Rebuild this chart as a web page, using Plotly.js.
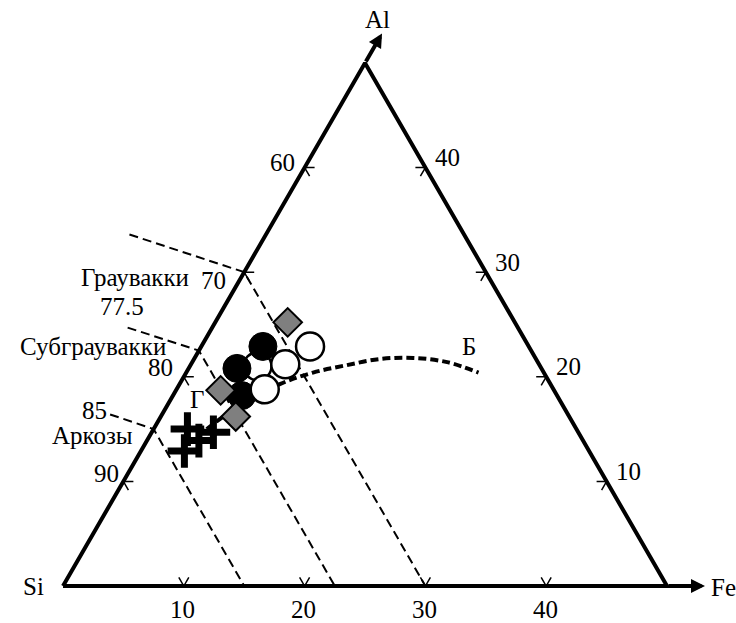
<!DOCTYPE html>
<html>
<head>
<meta charset="utf-8">
<script src="https://cdn.plot.ly/plotly-3.0.1.min.js"></script>
<style>
  html, body { margin: 0; padding: 0; background: #fff; }
  #chart { width: 736px; height: 623px; }
</style>
</head>
<body>
<div id="chart"></div>
<script>
// Compositions in percent (Si + Al + Fe = 100). Only the Si >= 50 part of the
// triangle is drawn, so Al and Fe each run from 0 to 50.

// Filled black circles
const blackCircleFe = [5.1, 4.0, 5.7];
const blackCircleAl = [22.9, 20.8, 18.2];
// Open circles (the first one lies underneath the black circles)
const openCircleFe = [5.6, 9.0, 7.8, 7.3];
const openCircleAl = [21.0, 22.9, 21.2, 18.8];
// Grey diamonds
const diamondFe = [6.0, 3.7, 6.2];
const diamondAl = [25.2, 18.7, 16.2];
// Crosses
const crossFe = [2.8, 5.1, 3.6, 4.3];
const crossAl = [15.0, 14.7, 12.9, 13.9];

// Classification boundaries (constant Si) and the points their leaders start from
const siBoundaries = [70, 77.5, 85];
const leaderFe = [-11.3, -7.0, -4.3];
const leaderAl = [33.6, 24.7, 16.4];

// Trend curve "Б"
const curveFe = [4.4, 6.0, 8.3, 10.5, 12.9, 15.4, 18.1, 21.1, 24.2];
const curveAl = [15.0, 17.3, 19.3, 20.4, 21.1, 21.7, 21.8, 21.4, 20.4];

// Tick values on each side
const siTicks = [60, 70, 80, 90];   // left side
const alTicks = [40, 30, 20, 10];   // right side
const feTicks = [10, 20, 30, 40];   // bottom side

// ---- geometry -------------------------------------------------------------
const SPAN = 50;                 // visible range of Al and Fe
const H = Math.sqrt(3) / 2;
const PX = 604;                  // pixels per unit side length
function cart(fe, al) {
  const v = al / SPAN, u = fe / SPAN;
  return [u + v / 2, v * H];
}
function toXY(feArr, alArr) {
  const x = [], y = [];
  feArr.forEach((fe, i) => { const p = cart(fe, alArr[i]); x.push(p[0]); y.push(p[1]); });
  return { x, y };
}

const BLACK = '#000';
const FONT = { family: '"Liberation Serif", "Times New Roman", serif', size: 25, color: BLACK };

const traces = [];

// triangle
const SI = cart(0, 0), FE = cart(SPAN, 0), AL = cart(0, SPAN);
traces.push({
  x: [SI[0], FE[0], AL[0], SI[0]], y: [SI[1], FE[1], AL[1], SI[1]],
  mode: 'lines', line: { color: BLACK, width: 4 }, hoverinfo: 'skip'
});

// boundary lines: leader -> left side -> bottom side
siBoundaries.forEach((si, i) => {
  const a = cart(leaderFe[i], leaderAl[i]);
  const b = cart(0, 100 - si);
  const c = cart(100 - si, 0);
  traces.push({
    x: [a[0], b[0], c[0]], y: [a[1], b[1], c[1]],
    mode: 'lines', line: { color: BLACK, width: 2, dash: '9px,5px' }, hoverinfo: 'skip'
  });
});

// curve Б
const cv = toXY(curveFe, curveAl);
traces.push({
  x: cv.x, y: cv.y, mode: 'lines',
  line: { color: BLACK, width: 4, dash: '8px,4px', shape: 'spline', smoothing: 1 },
  hoverinfo: 'skip'
});

// tick marks: two short strokes pointing inward along the other two directions
const TL = 10 / PX;
const tx = [], ty = [];
function tick(p, d1, d2) {
  tx.push(p[0] + d1[0] * TL, p[0], p[0] + d2[0] * TL, null);
  ty.push(p[1] + d1[1] * TL, p[1], p[1] + d2[1] * TL, null);
}
siTicks.forEach(t => tick(cart(0, 100 - t), [1, 0], [0.5, -H]));
alTicks.forEach(t => tick(cart(SPAN - t, t), [-1, 0], [-0.5, -H]));
feTicks.forEach(t => tick(cart(t, 0), [0.5, H], [-0.5, H]));
traces.push({ x: tx, y: ty, mode: 'lines', line: { color: BLACK, width: 1.5 }, hoverinfo: 'skip' });

// markers
const oc = toXY(openCircleFe, openCircleAl);
const openStyle = { symbol: 'circle', size: 28, color: '#fff', line: { color: BLACK, width: 2.5 } };
traces.push({ x: oc.x.slice(0, 1), y: oc.y.slice(0, 1), mode: 'markers', marker: openStyle });
const bc = toXY(blackCircleFe, blackCircleAl);
traces.push({ x: bc.x, y: bc.y, mode: 'markers',
  marker: { symbol: 'circle', size: 28, color: BLACK, line: { color: BLACK, width: 1 } } });
traces.push({ x: oc.x.slice(1), y: oc.y.slice(1), mode: 'markers', marker: openStyle });
const dm = toXY(diamondFe, diamondAl);
traces.push({ x: dm.x, y: dm.y, mode: 'markers',
  marker: { symbol: 'diamond', size: 22, color: '#7f7f7f', line: { color: BLACK, width: 2 } } });
const cr = toXY(crossFe, crossAl);
traces.push({ x: cr.x, y: cr.y, mode: 'markers',
  marker: { symbol: 'cross-thin-open', size: 24, color: BLACK, line: { color: BLACK, width: 7 } } });

// ---- annotations ----------------------------------------------------------
const ann = [];
function dataText(p, text, xshift, yshift, xanchor) {
  ann.push({ x: p[0], y: p[1], xref: 'x', yref: 'y', text, showarrow: false, font: FONT,
    xshift, yshift, xanchor: xanchor || 'center', yanchor: 'middle' });
}
function paperText(px, py, text, xanchor) {
  ann.push({ x: px / 736, y: 1 - py / 623, xref: 'paper', yref: 'paper', text, showarrow: false,
    font: FONT, xanchor: xanchor || 'center', yanchor: 'middle' });
}

// axis arrows beyond the Al and Fe corners
const alTip = [AL[0] + 0.5 * 34 / PX, AL[1] + H * 34 / PX];
const feTip = [FE[0] + 38 / PX, FE[1]];
[[AL, alTip], [FE, feTip]].forEach(([from, to]) => {
  ann.push({ x: to[0], y: to[1], ax: from[0], ay: from[1], xref: 'x', yref: 'y', axref: 'x', ayref: 'y',
    text: '', showarrow: true, arrowhead: 2, arrowsize: 0.7, arrowwidth: 4, arrowcolor: BLACK, standoff: 0 });
});

// corner names
dataText(AL, 'Al', 12, 43);
dataText(SI, 'Si', -17, 0, 'right');
dataText(FE, 'Fe', 42, -1, 'left');

// tick labels
const siShift = [[-22, 5], [-31, -8], [-23, 9], [-17, 8]];
siTicks.forEach((t, i) => dataText(cart(0, 100 - t), String(t), siShift[i][0], siShift[i][1]));
alTicks.forEach(t => dataText(cart(SPAN - t, t), String(t), 22, 10));
feTicks.forEach(t => dataText(cart(t, 0), String(t), -1, -23));

// field names and boundary values
paperText(191, 277, 'Граувакки', 'right');
paperText(122, 306, '77.5');
paperText(93, 346, 'Субграувакки');
paperText(94, 410, '85');
paperText(92, 435, 'Аркозы');
paperText(197, 399, 'Г');
paperText(469, 346, 'Б');

const layout = {
  width: 736, height: 623,
  margin: { l: 0, r: 0, t: 0, b: 0 },
  paper_bgcolor: '#fff', plot_bgcolor: '#fff',
  showlegend: false,
  xaxis: { range: [-63 / PX, 673 / PX], visible: false, fixedrange: true },
  yaxis: { range: [-37 / PX, 586 / PX], visible: false, fixedrange: true },
  annotations: ann
};

traces.forEach(t => { t.type = 'scatter'; t.cliponaxis = false; });
Plotly.newPlot('chart', traces, layout, { displayModeBar: false, staticPlot: true });
</script>
</body>
</html>
